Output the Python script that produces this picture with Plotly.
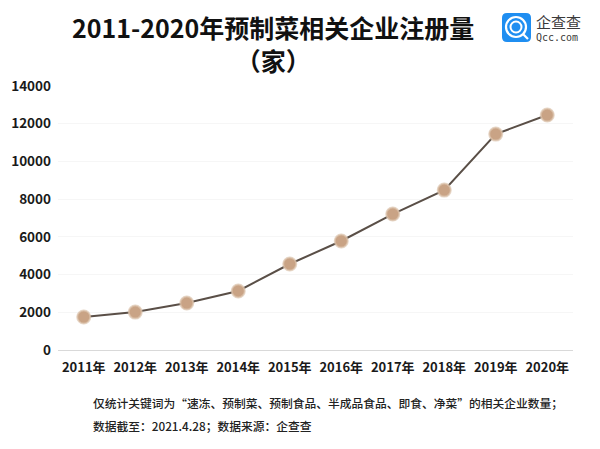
import plotly.graph_objects as go

years = ["2011年", "2012年", "2013年", "2014年", "2015年", "2016年", "2017年", "2018年", "2019年", "2020年"]
counts = [1750, 2010, 2490, 3130, 4560, 5780, 7210, 8480, 11450, 12460]
y_ticks = [0, 2000, 4000, 6000, 8000, 10000, 12000, 14000]

title_line1 = "2011-2020年预制菜相关企业注册量"
title_line2 = "（家）"
note1 = "仅统计关键词为“速冻、预制菜、预制食品、半成品食品、即食、净菜”的相关企业数量；"
note2 = "数据截至：2021.4.28；数据来源：企查查"
logo_cn = "企查查"
logo_en = "Qcc.com"

FONT = "Noto Sans CJK SC"

# page body has an 8px default margin; plot area in page pixels: x 58-573, y 86-350
PX0, PX1, PY0, PY1 = 58, 573, 86, 350


def px(x):
    return (x - PX0) / (PX1 - PX0)


def py(y):
    return (PY1 - y) / (PY1 - PY0)


fig = go.Figure()
fig.add_trace(go.Scatter(
    x=years, y=counts, mode="lines+markers",
    line=dict(color="#5a4f47", width=2),
    marker=dict(size=13, color="#c9a385", line=dict(color="rgba(220,195,172,0.7)", width=2)),
    hoverinfo="x+y", showlegend=False,
))

fig.update_layout(
    width=592, height=441,
    margin=dict(l=PX0 - 8, r=592 - (PX1 - 8), t=PY0 - 8, b=441 - (PY1 - 8)),
    paper_bgcolor="white", plot_bgcolor="white",
    font=dict(family=FONT, color="#222222"),
    xaxis=dict(
        type="category", range=[-0.5, 9.5], automargin=False,
        showgrid=False, showline=True, linecolor="#d9d9d9", linewidth=1,
        ticks="", ticklabelstandoff=5,
        tickfont=dict(size=13, family=FONT, color="#1a1a1a", weight="bold"),
        fixedrange=True,
    ),
    yaxis=dict(
        range=[0, 14000], tickvals=y_ticks, ticktext=[str(v) for v in y_ticks],
        automargin=False,
        showgrid=True, gridcolor="#f6f6f6", zeroline=False, showline=False,
        ticks="", ticklabelstandoff=6,
        tickfont=dict(size=13.5, family=FONT, color="#1a1a1a", weight="bold"),
        fixedrange=True,
    ),
)

# Title (two centred lines in one text block)
fig.add_annotation(xref="paper", yref="paper", x=px(273), y=py(43),
                   text=title_line1 + "<br>" + title_line2, showarrow=False,
                   xanchor="center", yanchor="middle", align="center",
                   font=dict(size=25, family=FONT, color="#111111", weight="bold"))

# Logo: rounded blue square with white swirl
x0, x1, y0, y1, r = 502, 531, 13, 42, 5
path = (f"M {px(x0 + r)} {py(y0)} L {px(x1 - r)} {py(y0)} Q {px(x1)} {py(y0)} {px(x1)} {py(y0 + r)} "
        f"L {px(x1)} {py(y1 - r)} Q {px(x1)} {py(y1)} {px(x1 - r)} {py(y1)} "
        f"L {px(x0 + r)} {py(y1)} Q {px(x0)} {py(y1)} {px(x0)} {py(y1 - r)} "
        f"L {px(x0)} {py(y0 + r)} Q {px(x0)} {py(y0)} {px(x0 + r)} {py(y0)} Z")
fig.add_shape(type="path", xref="paper", yref="paper", path=path,
              fillcolor="#1f8ef1", line=dict(width=0), layer="above")
fig.add_shape(type="circle", xref="paper", yref="paper",
              x0=px(506), x1=px(526), y0=py(37), y1=py(17),
              fillcolor="rgba(0,0,0,0)", line=dict(width=2.2, color="white"), layer="above")
fig.add_shape(type="circle", xref="paper", yref="paper",
              x0=px(510.5), x1=px(521.5), y0=py(32.5), y1=py(21.5),
              fillcolor="rgba(0,0,0,0)", line=dict(width=2, color="white"), layer="above")
fig.add_shape(type="line", xref="paper", yref="paper",
              x0=px(523), x1=px(528), y0=py(34), y1=py(39),
              line=dict(width=2.2, color="white"), layer="above")
fig.add_annotation(xref="paper", yref="paper", x=px(534), y=py(21),
                   text=logo_cn, showarrow=False, xanchor="left", yanchor="middle",
                   font=dict(size=15, family=FONT, color="#3a3a3a"))
fig.add_annotation(xref="paper", yref="paper", x=px(534), y=py(38),
                   text=logo_en, showarrow=False, xanchor="left", yanchor="middle",
                   font=dict(size=10, family="DejaVu Sans Mono", color="#3a3a3a"))

# Notes
fig.add_annotation(xref="paper", yref="paper", x=px(91), y=py(402),
                   text=note1, showarrow=False, xanchor="left", yanchor="middle",
                   font=dict(size=11.75, family=FONT, color="#222222", weight=500))
fig.add_annotation(xref="paper", yref="paper", x=px(91), y=py(425),
                   text=note2, showarrow=False, xanchor="left", yanchor="middle",
                   font=dict(size=11.75, family=FONT, color="#222222", weight=500))

fig.write_html("out.html")
